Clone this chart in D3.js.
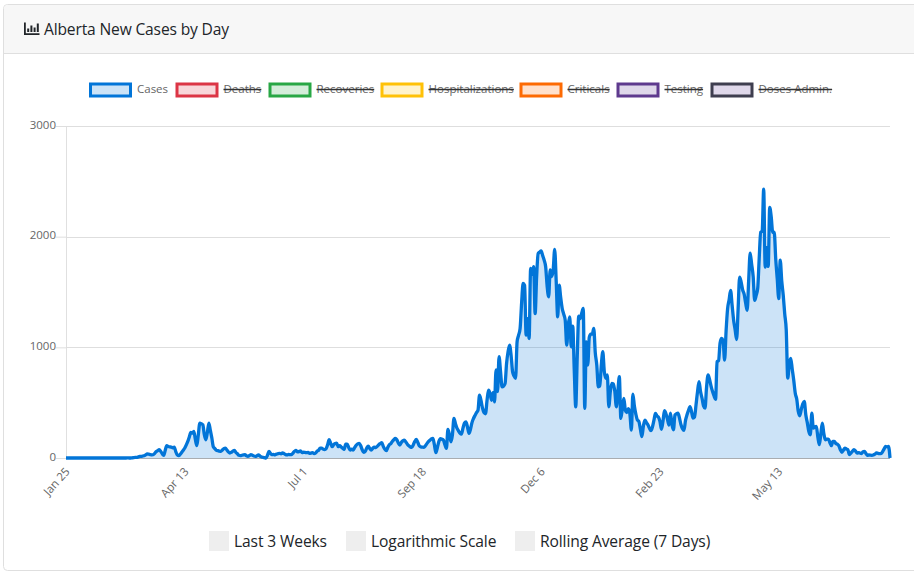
<!DOCTYPE html>
<html>
<head>
<meta charset="utf-8">
<script src="https://cdn.jsdelivr.net/npm/d3@7"></script>
<style>
  html, body { margin: 0; padding: 0; background: #fff; }
  svg { display: block; font-family: "Open Sans", "Noto Sans", sans-serif; }
  .tick text { fill: #666; font-size: 11.5px; font-family: "Open Sans", sans-serif; }
</style>
</head>
<body>
<svg width="914" height="587"></svg>
<script>
var chartTitle = "Alberta New Cases by Day";

var tickDays = [0, 79, 158, 237, 316, 395, 474];
var tickLabels = ["Jan 25", "Apr 13", "Jul 1", "Sep 18", "Dec 6", "Feb 23", "May 13"];
var yTicks = [0, 1000, 2000, 3000];

// legend: only Cases is switched on in the picture
var legendNames = ["Cases", "Deaths", "Recoveries", "Hospitalizations", "Criticals", "Testing", "Doses Admin."];
var legendBorders = ["#0275d8", "#dc3545", "#28a745", "#ffc107", "#fd6a02", "#5e3a8e", "#3e3e4f"];
var legendFills = ["#cce3f7", "#f8d7da", "#d4edda", "#fff3cd", "#ffe1cc", "#dfd8ea", "#dfd8ea"];
var legendOff = [false, true, true, true, true, true, true];

var toggleNames = ["Last 3 Weeks", "Logarithmic Scale", "Rolling Average (7 Days)"];

// daily new cases
var newCases = [
  0,0,0,0,0,0,0,0,0,0,
  0,0,0,0,0,0,0,0,0,0,
  0,0,0,0,0,0,0,0,0,0,
  0,0,0,0,0,0,0,0,0,0,
  0,1,0,0,2,3,6,5,9,15,
  14,18,20,28,36,34,31,29,30,42,
  58,66,75,60,38,24,70,111,104,100,
  99,92,99,58,28,21,34,52,70,90,
  118,150,190,232,225,240,170,111,210,316,
  310,300,210,165,230,316,250,180,100,85,
  69,66,62,60,72,85,90,72,55,45,
  52,62,69,50,38,24,21,25,28,30,
  20,15,22,30,25,18,15,20,28,18,
  10,6,3,0,25,60,42,30,32,28,
  35,39,42,38,45,40,30,28,32,30,
  30,45,60,69,55,58,65,48,52,50,
  48,51,42,45,48,40,45,62,70,90,
  90,80,75,85,120,165,132,102,120,132,
  135,102,111,100,88,78,126,126,95,72,
  80,72,95,115,128,132,110,75,50,60,
  90,108,85,72,88,98,95,105,120,130,
  138,105,80,66,95,120,130,150,165,177,
  165,135,117,140,155,162,145,125,110,100,
  96,120,150,168,140,110,100,98,96,110,
  130,147,160,172,177,120,48,95,150,175,
  170,162,120,87,258,210,147,210,357,310,
  270,246,225,216,270,315,327,280,222,260,
  320,357,385,410,432,567,520,450,410,400,
  520,612,584,522,590,507,795,600,915,780,
  642,650,672,855,960,1020,930,780,740,720,
  1050,1110,1170,1400,1577,1560,1110,1260,1080,1713,
  1660,1728,1305,1640,1848,1860,1872,1830,1788,1728,
  1550,1457,1700,1640,1700,1884,1600,1276,1562,1450,
  1351,1300,1246,1020,1200,1276,1005,1192,800,463,
  915,1282,1260,1310,1351,448,1050,840,1090,1120,
  1120,1171,950,840,644,650,840,960,780,720,
  750,463,600,674,670,600,463,600,734,358,
  450,539,430,410,445,400,253,578,470,395,
  343,330,260,193,290,343,320,300,270,247,
  280,340,403,380,370,330,259,330,427,400,
  350,298,405,300,255,390,400,405,360,300,
  265,250,340,390,430,465,420,360,370,480,
  600,690,600,540,470,450,640,750,710,650,
  600,560,530,870,880,1040,1080,1060,885,1150,
  1350,1430,1515,1380,1245,1160,1071,1350,1635,1590,
  1520,1480,1400,1335,1600,1851,1750,1640,1425,1470,
  1530,1800,2040,2050,2430,1725,1900,1731,2265,2180,
  2040,2040,1800,1620,1440,1788,1600,1470,1300,1155,
  722,850,900,800,700,585,530,420,382,440,
  490,512,390,320,240,210,405,270,280,285,
  190,120,220,315,220,165,170,171,140,111,
  150,150,130,125,111,75,51,70,90,81,
  75,30,45,60,75,65,45,48,45,40,
  55,60,40,24,28,25,24,28,35,45,
  42,40,39,55,80,105,100,105,0
];

var svg = d3.select("svg");

// card
svg.append("rect")
    .attr("x", 3.5).attr("y", 4.5)
    .attr("width", 930).attr("height", 566)
    .attr("rx", 4)
    .attr("fill", "#fff")
    .attr("stroke", "#dfdfdf");
svg.append("path")
    .attr("d", "M4,53V8.5Q4,5 8,5H914V53Z")
    .attr("fill", "#f7f7f7");
svg.append("line")
    .attr("x1", 4).attr("x2", 914)
    .attr("y1", 53.5).attr("y2", 53.5)
    .attr("stroke", "#dfdfdf");

// bar chart icon
svg.append("path")
    .attr("d", "M24,22.5h1.8v10.7H39.5v1.8H24Z M27.2,28.5h2v3.4h-2Z M30.4,25.5h2v6.4h-2Z M33.6,27.5h2v4.4h-2Z M36.8,23.5h2v8.4h-2Z")
    .attr("fill", "#212529");

svg.append("text")
    .attr("x", 44).attr("y", 35)
    .attr("font-size", 15.6)
    .attr("letter-spacing", -0.16)
    .attr("fill", "#212529")
    .text(chartTitle);

var x = d3.scaleLinear().domain([0, newCases.length - 1]).range([66, 890]);
var y = d3.scaleLinear().domain([0, 3000]).range([458, 126]);

// y axis with full-width grid
var yAxis = svg.append("g")
    .attr("transform", "translate(66,0)")
    .call(d3.axisLeft(y).tickValues(yTicks).tickSize(10).tickPadding(0).tickFormat(d3.format("d")));
yAxis.select(".domain").attr("stroke", "#e0e0e0").attr("d", "M0.5,126V458");
yAxis.selectAll(".tick line").attr("stroke", "#dedede");
yAxis.selectAll(".tick text").attr("dy", "0.2em").attr("x", -10);

svg.append("g")
    .selectAll("line")
    .data(yTicks)
    .enter().append("line")
    .attr("x1", 66).attr("x2", 890)
    .attr("y1", function(d) { return Math.round(y(d)) + 0.5; })
    .attr("y2", function(d) { return Math.round(y(d)) + 0.5; })
    .attr("stroke", function(d) { return d == 0 ? "#a9adb1" : "#dedede"; });

// area and line
var area = d3.area()
    .x(function(d, i) { return x(i); })
    .y0(y(0))
    .y1(function(d) { return y(d); })
    .curve(d3.curveMonotoneX);
var line = d3.line()
    .x(function(d, i) { return x(i); })
    .y(function(d) { return y(d); })
    .curve(d3.curveMonotoneX);

svg.append("path")
    .datum(newCases)
    .attr("d", area)
    .attr("fill", "#0275d8")
    .attr("fill-opacity", 0.2);
svg.append("path")
    .datum(newCases)
    .attr("d", line)
    .attr("fill", "none")
    .attr("stroke", "#0275d8")
    .attr("stroke-width", 3.3)
    .attr("stroke-linejoin", "round");

// x axis, labels only
var xAxis = svg.append("g")
    .attr("transform", "translate(0,458)")
    .call(d3.axisBottom(x).tickValues(tickDays).tickSize(0).tickFormat(function(d, i) { return tickLabels[i]; }));
xAxis.select(".domain").remove();
xAxis.selectAll(".tick text")
    .attr("text-anchor", "end")
    .attr("dy", 0)
    .attr("y", 0)
    .attr("transform", "translate(4,14) rotate(-48)");

// legend
var legendX = [90, 176.5, 269.5, 381.5, 520.5, 617.5, 711.5];
var legend = svg.append("g")
    .selectAll("g")
    .data(legendNames)
    .enter().append("g")
    .attr("transform", function(d, i) { return "translate(" + legendX[i] + ",83)"; });
legend.append("rect")
    .attr("x", 0.5).attr("y", 1)
    .attr("width", 40).attr("height", 12)
    .attr("fill", function(d, i) { return legendFills[i]; })
    .attr("stroke", function(d, i) { return legendBorders[i]; })
    .attr("stroke-width", 3);
legend.append("text")
    .attr("x", 47).attr("y", 10)
    .attr("font-size", 11.5)
    .attr("fill", "#666")
    .text(function(d) { return d; });
legend.filter(function(d, i) { return legendOff[i]; })
    .append("line")
    .attr("x1", 47)
    .attr("x2", function() { return 47 + this.parentNode.querySelector("text").getComputedTextLength(); })
    .attr("y1", 6.5).attr("y2", 6.5)
    .attr("stroke", "#333")
    .attr("stroke-width", 1.6);

// toggles under the chart
var toggleX = [209, 346, 515];
var toggles = svg.append("g")
    .selectAll("g")
    .data(toggleNames)
    .enter().append("g")
    .attr("transform", function(d, i) { return "translate(" + toggleX[i] + ",531)"; });
toggles.append("rect")
    .attr("width", 20).attr("height", 20)
    .attr("fill", "#eee");
toggles.append("text")
    .attr("x", 25).attr("y", 16)
    .attr("font-size", 15.6)
    .attr("letter-spacing", -0.12)
    .attr("fill", "#212529")
    .text(function(d) { return d; });
</script>
</body>
</html>
